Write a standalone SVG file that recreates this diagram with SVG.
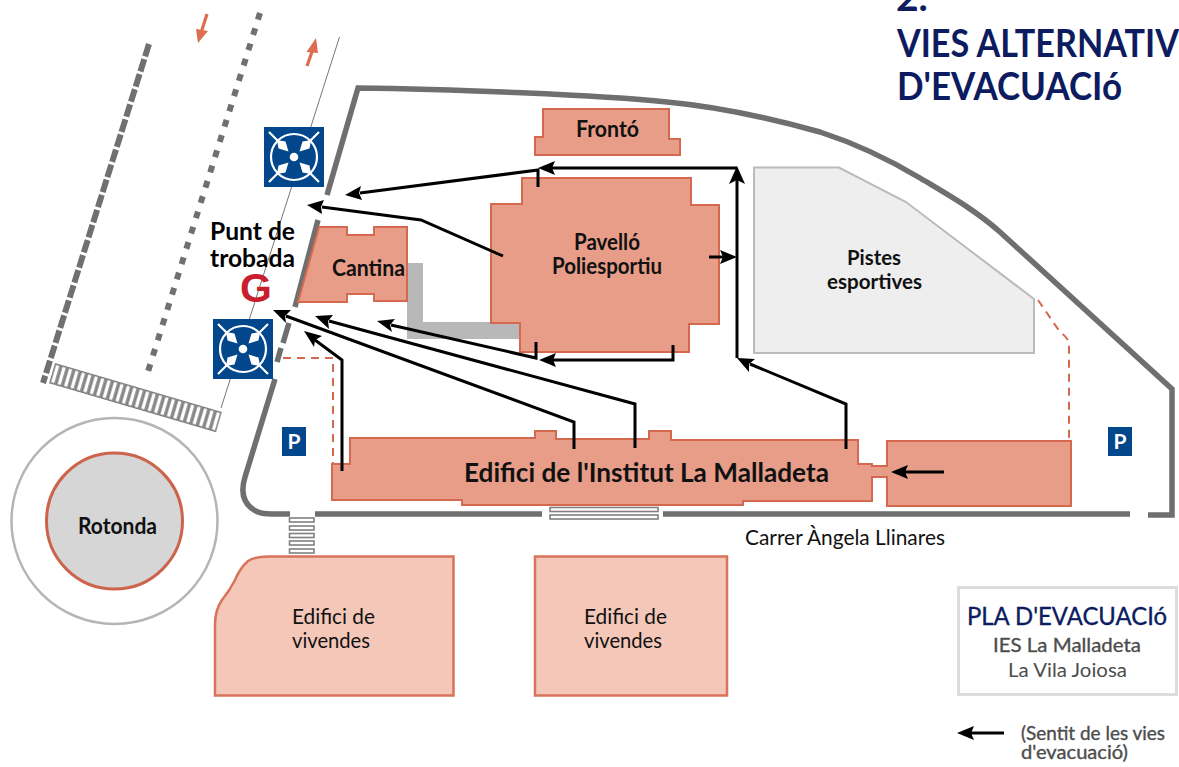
<svg xmlns="http://www.w3.org/2000/svg" xmlns:xlink="http://www.w3.org/1999/xlink" width="1179" height="767" viewBox="0 0 1179 767">
<style>
text{font-family:"Lato","Open Sans","Liberation Sans",sans-serif;fill:#111}
.b{font-weight:700}
.m{stroke-width:.35}
.bld{fill:#e79d88;stroke:#d4694f;stroke-width:2}
.viv{fill:#f4c7b8;stroke:#d9735a;stroke-width:2.5}
.wall{fill:none;stroke:#6f6f6f;stroke-width:5.5}
.road{fill:none;stroke:#707070;stroke-width:6}
.red{fill:none;stroke:#d4694f;stroke-width:2;stroke-dasharray:8 6}
.ar{fill:none;stroke:#000;stroke-width:3}
.rarw{fill:none;stroke:#dd6c50;stroke-width:3.2}
.st{fill:#fff;stroke:#808080;stroke-width:1.6}
.nv{fill:#0d1c60}
.gr{fill:#4d4d4d}
</style>
<defs>
<pattern id="zebra" patternUnits="userSpaceOnUse" width="6.7" height="21">
<rect x=".8" y=".7" width="5" height="19.6" fill="#fff" stroke="#777" stroke-width="1.5"/>
</pattern>
<g id="ic">
<rect width="60" height="60" fill="#02468c"/>
<g fill="none" stroke="#fff" stroke-width="2.2">
<circle cx="30" cy="30" r="23"/>
<path d="M5 5L17 17M55 5L43 17M5 55L17 43M55 55L43 43"/>
</g>
<circle cx="30" cy="30" r="4.300" fill="#fff"/>
<g fill="#fff">
<path d="M13 13L14.500 21.500L24.500 24.500L21.500 14.500Z"/>
<path d="M47 13L45.500 21.500L35.500 24.500L38.500 14.500Z"/>
<path d="M13 47L14.500 38.500L24.500 35.500L21.500 45.500Z"/>
<path d="M47 47L45.500 38.500L35.500 35.500L38.500 45.500Z"/>
</g>
</g>
</defs>
<rect width="1179" height="767" fill="#fff"/>
<g id="road">
<path class="road" stroke-dasharray="13 2.800" d="M149 44L43 383"/>
<path class="road" stroke-dasharray="7 9" d="M260 13L146 378"/>
<path d="M339.500 37L221 408" fill="none" stroke="#777" stroke-width="1"/>
<rect x="0" y="0" width="174" height="21" fill="url(#zebra)" transform="translate(55,363) rotate(16.35)"/>
<path class="rarw" d="M207 14L201 33"/><path d="M196 29L208 31L198 43Z" fill="#dd6c50"/>
<path class="rarw" d="M307 66L313 49"/><path d="M306.500 52L318 53L316 38Z" fill="#dd6c50"/>
</g>
<g id="walls">
<path class="wall" d="M327 195L358 88C450 89 600 95 667 102C720 107 770 118 820 132C860 145 890 160 920 178C950 196 975 210 1000 232L1172 389V515H1148"/>
<path class="wall" d="M318 220L295 307"/>
<path class="wall" d="M289 323L283 343M281 348L277 362"/>
<path class="wall" d="M275 379L245 477Q238 500 254 510Q260 514 272 514H290M315 514H542M663 514H1130"/>
<g>
<rect x="289.500" y="518" width="24.500" height="4" class="st"/>
<rect x="289.500" y="526" width="24.500" height="4" class="st"/>
<rect x="289.500" y="533.500" width="24.500" height="4" class="st"/>
<rect x="289.500" y="541" width="24.500" height="4" class="st"/>
<rect x="289.500" y="549" width="24.500" height="4" class="st"/>
<rect x="550" y="507.500" width="108" height="4" class="st"/>
<rect x="550" y="515" width="108" height="4" class="st"/>
</g>
<path class="red" d="M283 358H333V465"/>
<path class="red" d="M1038 300L1060 332Q1069 338 1069 345V438"/>
</g>
<g id="gang"><path d="M407 263H423V322H520V339H407Z" fill="#b8b8b8"/></g>
<g id="fronto">
<path class="bld" d="M543 109H669V139H680V155H535V137H543Z"/>
<text class="b" x="576" y="137" font-size="23" textLength="63" lengthAdjust="spacingAndGlyphs">Frontó</text>
</g>
<g id="pavello">
<path class="bld" d="M522 178H691V205H719V324H689V352H520V323H491V204H522Z"/>
<text class="b" x="574" y="250" font-size="22.500" textLength="66" lengthAdjust="spacingAndGlyphs">Pavelló</text>
<text class="b" x="552" y="274" font-size="22.500" textLength="110" lengthAdjust="spacingAndGlyphs">Poliesportiu</text>
</g>
<g id="cantina">
<path class="bld" d="M319 227H347V235H374V227H407V301H374V294H347V302H298Z"/>
<text class="b" x="332" y="276" font-size="22.500" textLength="73" lengthAdjust="spacingAndGlyphs">Cantina</text>
</g>
<g id="pistes">
<path d="M754 167.500H839L906 202L1034 299V353H754Z" fill="#eeeeee" stroke="#bbb" stroke-width="2"/>
<text class="b" x="847" y="265" font-size="21.500" textLength="54" lengthAdjust="spacingAndGlyphs">Pistes</text>
<text class="b" x="827" y="289" font-size="21.500" textLength="95" lengthAdjust="spacingAndGlyphs">esportives</text>
</g>
<g id="institut">
<path class="bld" d="M332 464H350V438H535V431H556V439H649V431H671V440H858V464H872V466H887V441H1071V506H887V477H872V501H743V505H462V500H332Z"/>
<text class="b" x="464" y="482" font-size="27.500" textLength="365" lengthAdjust="spacingAndGlyphs">Edifici de l'Institut La Malladeta</text>
</g>
<g id="rotonda">
<circle cx="114.500" cy="521" r="103" fill="#fff" stroke="#b5b5b5" stroke-width="2.500"/>
<circle cx="114.500" cy="521" r="68" fill="#d6d6d6" stroke="#cc644c" stroke-width="3"/>
<text class="b" x="78" y="534" font-size="22" textLength="79" lengthAdjust="spacingAndGlyphs">Rotonda</text>
</g>
<g id="vivendes1">
<path class="viv" d="M268 556.500H453.500V695.500H215V625Q215 610 222 600Q230 590 235 580Q240 568 248 561Q255 556.500 268 556.500Z"/>
<text x="292" y="624" font-size="21.500" textLength="83" lengthAdjust="spacingAndGlyphs">Edifici de</text>
<text x="292" y="648" font-size="21.500" textLength="78" lengthAdjust="spacingAndGlyphs">vivendes</text>
</g>
<g id="vivendes2">
<rect class="viv" x="535" y="556.500" width="192" height="139"/>
<text x="584" y="624" font-size="21.500" textLength="83" lengthAdjust="spacingAndGlyphs">Edifici de</text>
<text x="584" y="648" font-size="21.500" textLength="78" lengthAdjust="spacingAndGlyphs">vivendes</text>
</g>
<g id="connectors">
<path class="ar" d="M737 358V180"/>
<path d="M737 166L745 184L737 180L729 184Z" fill="#000"/>
<path class="ar" d="M737 168H552"/><path d="M538 168L555 161L552 168L555 175Z" fill="#000"/>
<path class="ar" d="M538 187V170L360 193"/><path d="M345 195L361 186L359 193L362 200Z" fill="#000"/>
<path class="ar" d="M503 256L421 220L322 207"/><path d="M307 205L324 200L321 207L322 214Z" fill="#000"/>
<path class="ar" d="M709 257H724"/><path d="M737 257L720 250L723 257L720 264Z" fill="#000"/>
<path class="ar" d="M846 449V404L750 364"/><path d="M737 358L755 359L749 364L749 372Z" fill="#000"/>
<path class="ar" d="M673 345V360H553"/><path d="M539 360L556 353L553 360L556 367Z" fill="#000"/>
<path class="ar" d="M536 342V358L391 325"/><path d="M377 321L395 319L390 325L392 332Z" fill="#000"/>
<path class="ar" d="M635 448V404L329 321"/><path d="M315 316L333 315L328 321L329 329Z" fill="#000"/>
<path class="ar" d="M574 449V422L286 316"/><path d="M273 310L291 310L285 316L286 323Z" fill="#000"/>
<path class="ar" d="M342 471V360L315 340"/><path d="M304 331L322 336L315 340L314 347Z" fill="#000"/>
<path class="ar" d="M944 472H905"/><path d="M891 472L908 465L905 472L908 479Z" fill="#000"/>
<path class="ar" d="M1004 733H971"/><path d="M957 733L974 726L971 733L974 740Z" fill="#000"/>
</g>
<g id="punt">
<use xlink:href="#ic" href="#ic" x="264" y="127"/>
<use xlink:href="#ic" href="#ic" x="213" y="319"/>
<text class="b" x="210" y="240" font-size="25" style="fill:#000" textLength="85" lengthAdjust="spacingAndGlyphs">Punt de</text>
<text class="b" x="210" y="267" font-size="25" style="fill:#000" textLength="85" lengthAdjust="spacingAndGlyphs">trobada</text>
<text x="240" y="302" font-size="41" font-weight="700" style="font-family:'Liberation Sans',sans-serif;fill:#c81e2e">G</text>
</g>
<g id="parking">
<rect x="282" y="427" width="24" height="29" fill="#02468c"/>
<rect x="1108" y="427" width="24" height="29" fill="#02468c"/>
<text x="294" y="449" font-size="21" font-weight="700" text-anchor="middle" style="fill:#fff">P</text>
<text x="1120" y="449" font-size="21" font-weight="700" text-anchor="middle" style="fill:#fff">P</text>
</g>
<g id="carrer"><text x="745" y="545" font-size="21" textLength="200" lengthAdjust="spacingAndGlyphs">Carrer Àngela Llinares</text></g>
<g id="titol">
<text class="nv b" x="896" y="11" font-size="39">2.</text>
<text class="nv b" x="897" y="57" font-size="39" textLength="282" lengthAdjust="spacingAndGlyphs">VIES ALTERNATIV</text>
<text class="nv b" x="897" y="100" font-size="39" textLength="225" lengthAdjust="spacingAndGlyphs">D'EVACUACIó</text>
</g>
<g id="llegenda">
<rect x="958.500" y="587.500" width="218" height="107" fill="none" stroke="#dcdcdc" stroke-width="3"/>
<text class="nv m" stroke="#0d1c60" x="967" y="625" font-size="25" textLength="200" lengthAdjust="spacingAndGlyphs">PLA D'EVACUACIó</text>
<text class="gr m" stroke="#4d4d4d" x="993" y="652" font-size="20" textLength="148" lengthAdjust="spacingAndGlyphs">IES La Malladeta</text>
<text class="gr" x="1008" y="677" font-size="19.500" textLength="119" lengthAdjust="spacingAndGlyphs">La Vila Joiosa</text>
<text class="gr m" stroke="#4d4d4d" x="1021" y="740" font-size="18.500" textLength="144" lengthAdjust="spacingAndGlyphs">(Sentit de les vies</text>
<text class="gr m" stroke="#4d4d4d" x="1021" y="759" font-size="18.500" textLength="107" lengthAdjust="spacingAndGlyphs">d'evacuació)</text>
</g>
</svg>
